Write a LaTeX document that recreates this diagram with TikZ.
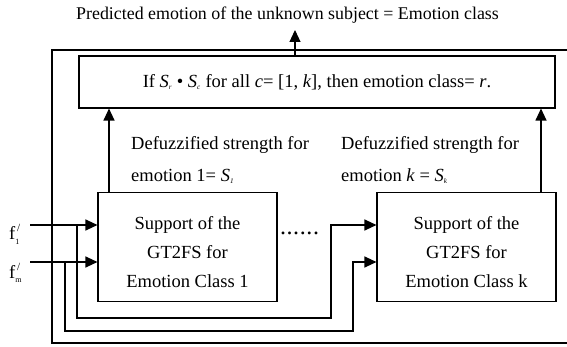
\documentclass[tikz,border=0pt]{standalone}
\usepackage{fontspec}
\setmainfont{Liberation Serif}
\usetikzlibrary{arrows.meta}
\newcommand\SubS[2]{\textit{#1}\textsubscript{\scalebox{0.55}{\textit{#2}}}}
\newcommand\FLabel[1]{f\rlap{\raisebox{8pt}{\fontsize{11}{11}\selectfont\,/}}\raisebox{-4.5pt}{\fontsize{8}{8}\selectfont #1}}
\tikzset{
  wire/.style={line width=1.1pt},
  tip/.style={wire,-{Triangle[length=12pt,width=11pt]}},
  block/.style={draw,line width=1.1pt,inner sep=0pt,align=center,
    font=\fontsize{18.5}{29}\selectfont},
  lbl/.style={inner sep=0pt,font=\fontsize{18.5}{32}\selectfont},
}
\begin{document}
\begin{tikzpicture}[x=1pt,y=-1pt]
  \useasboundingbox (0,0) rectangle (567,347);

  % output label and decision block
  \node[lbl,font=\fontsize{17.9}{22}\selectfont] (title) at (287.5,15)
    {Predicted emotion of the unknown subject = Emotion class};
  \node[block,minimum width=476pt,minimum height=52pt] (rule) at (317,82)
    {If \SubS{S}{r} \textbullet\ \SubS{S}{c} for all \textit{c}= [1, \textit{k}], then emotion class= \textit{r}.};

  % per-class support blocks
  \node[block,minimum width=179pt,minimum height=109pt] (box1) at (187.5,247)
    {\rule{0pt}{23pt}Support of the\\GT2FS for\\Emotion Class 1};
  \node[block,minimum width=179pt,minimum height=109pt] (boxk) at (466.5,247)
    {\rule{0pt}{23pt}Support of the\\GT2FS for\\Emotion Class k};
  \node[inner sep=0pt,font=\fontsize{24}{24}\selectfont] (dots) at (299.5,233)
    {\makebox[39pt][s]{.\hfil.\hfil.\hfil.\hfil.\hfil.}};

  % defuzzified strengths
  \node[lbl,anchor=west,align=left] (d1) at (131,160)
    {Defuzzified strength for\\emotion 1= \SubS{S}{1}};
  \node[lbl,anchor=west,align=left] (dk) at (341,160)
    {Defuzzified strength for\\emotion \textit{k} = \SubS{S}{k}};

  % input feature labels
  \node[lbl,anchor=base west] (f1) at (9,240) {\FLabel{1}};
  \node[lbl,anchor=base west] (fm) at (9,278) {\FLabel{m}};

  % outer frame (open on the right)
  \coordinate (ftr) at (567,50);
  \coordinate (fbr) at (567,343);
  \draw[wire] (ftr) -- (52,50) -- (52,343) -- (fbr);

  % connections
  \coordinate (out) at (295,30);
  \draw[tip] (rule.north -| out) -- (out);
  \draw[tip] (box1.north -| 109,0) -- (rule.south -| 109,0);
  \draw[tip] (boxk.north -| 541,0) -- (rule.south -| 541,0);

  \coordinate (in1) at (30,225);
  \coordinate (inm) at (30,262);
  \coordinate (b1) at (77,225);
  \coordinate (bm) at (65,262);
  \draw[tip] (in1) -- (box1.west |- in1);
  \draw[tip] (inm) -- (box1.west |- inm);
  \draw[tip] (b1) -- (77,318) -- (331,318) -- (331,225) -- (boxk.west |- b1);
  \draw[tip] (bm) -- (65,331) -- (353,331) -- (353,262) -- (boxk.west |- bm);
\end{tikzpicture}
\end{document}
